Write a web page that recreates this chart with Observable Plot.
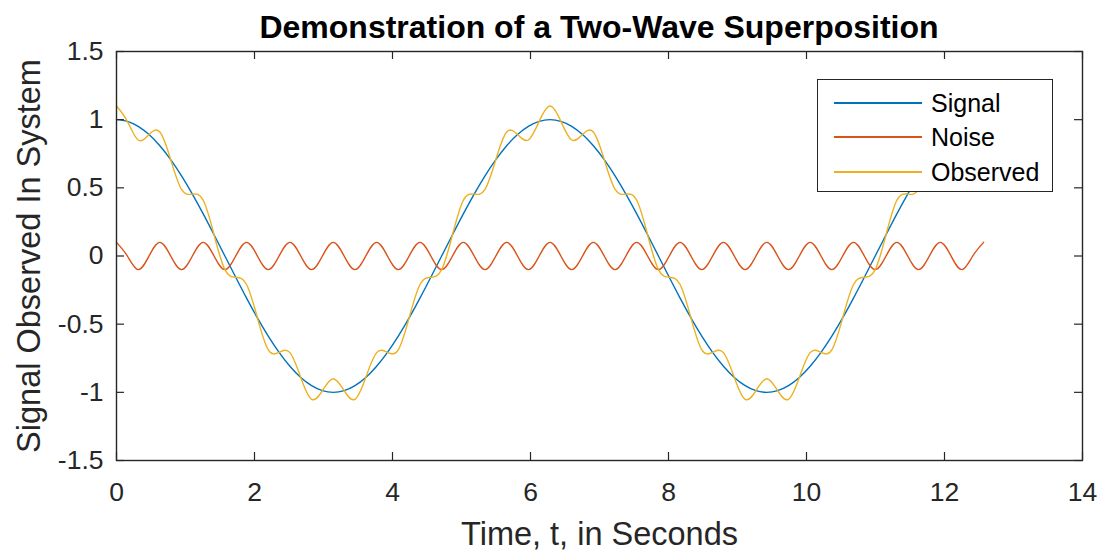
<!DOCTYPE html>
<html>
<head>
<meta charset="utf-8">
<script src="https://cdn.jsdelivr.net/npm/d3@7"></script>
<script src="https://cdn.jsdelivr.net/npm/@observablehq/plot@0.6"></script>
<style>
  body { margin: 0; background: #fff; font-family: "Liberation Sans", Arial, sans-serif; }
  #wrap { position: relative; width: 1101px; height: 552px; }
  #title { position: absolute; left: 116px; width: 966px; top: 11px; line-height: 32px; text-align: center; font-weight: bold; font-size: 32px; color: #000; white-space: nowrap; }
  #legend { position: absolute; left: 817px; top: 79px; width: 236px; height: 113px; background: #fff; border: 1.5px solid #262626; box-sizing: border-box; }
  .lrow { position: absolute; left: 16px; height: 30px; line-height: 30px; display: flex; align-items: center; font-size: 25px; color: #000; white-space: nowrap; }
  .lrow span.sw { display: inline-block; width: 88px; height: 2px; margin-right: 9px; }
</style>
</head>
<body>
<div id="wrap">
  <div id="chart"></div>
  <div id="title">Demonstration of a Two-Wave Superposition</div>
  <div id="legend"></div>
</div>
<script>
const timeStep = Math.PI / 20;
const signal = [1,0.988,0.951,0.891,0.809,0.707,0.588,0.454,0.309,0.156,0,-0.156,-0.309,-0.454,-0.588,-0.707,-0.809,-0.891,-0.951,-0.988,-1,-0.988,-0.951,-0.891,-0.809,-0.707,-0.588,-0.454,-0.309,-0.156,0,0.156,0.309,0.454,0.588,0.707,0.809,0.891,0.951,0.988,1,
  0.988,0.951,0.891,0.809,0.707,0.588,0.454,0.309,0.156,0,-0.156,-0.309,-0.454,-0.588,-0.707,-0.809,-0.891,-0.951,-0.988,-1,-0.988,-0.951,-0.891,-0.809,-0.707,-0.588,-0.454,-0.309,-0.156,0,0.156,0.309,0.454,0.588,0.707,0.809,0.891,0.951,0.988,1];
const noise = [0.1,0,-0.1,0,0.1,0,-0.1,0,0.1,0,-0.1,0,0.1,0,-0.1,0,0.1,0,-0.1,0,0.1,0,-0.1,0,0.1,0,-0.1,0,0.1,0,-0.1,0,0.1,0,-0.1,0,0.1,0,-0.1,0,0.1,
  0,-0.1,0,0.1,0,-0.1,0,0.1,0,-0.1,0,0.1,0,-0.1,0,0.1,0,-0.1,0,0.1,0,-0.1,0,0.1,0,-0.1,0,0.1,0,-0.1,0,0.1,0,-0.1,0,0.1,0,-0.1,0,0.1];
const observed = [1.1,0.988,0.851,0.891,0.909,0.707,0.488,0.454,0.409,0.156,-0.1,-0.156,-0.209,-0.454,-0.688,-0.707,-0.709,-0.891,-1.051,-0.988,-0.9,-0.988,-1.051,-0.891,-0.709,-0.707,-0.688,-0.454,-0.209,-0.156,-0.1,0.156,0.409,0.454,0.488,0.707,0.909,0.891,0.851,0.988,1.1,
  0.988,0.851,0.891,0.909,0.707,0.488,0.454,0.409,0.156,-0.1,-0.156,-0.209,-0.454,-0.688,-0.707,-0.709,-0.891,-1.051,-0.988,-0.9,-0.988,-1.051,-0.891,-0.709,-0.707,-0.688,-0.454,-0.209,-0.156,-0.1,0.156,0.409,0.454,0.488,0.707,0.909,0.891,0.851,0.988,1.1];
const seriesNames = ["Signal", "Noise", "Observed"];
const seriesColors = ["#0072BD", "#D95319", "#EDB120"];
const xTicks = [0, 2, 4, 6, 8, 10, 12, 14];
const yTicks = [-1.5, -1, -0.5, 0, 0.5, 1, 1.5];

const seriesValues = [signal, noise, observed];
const rows = [];
seriesValues.forEach((vals, s) => vals.forEach((v, k) => rows.push({t: k * timeStep, v, series: seriesNames[s]})));

const W = 1101, H = 552, mL = 116, mR = 19, mT = 51, mB = 92;
const frameW = W - mL - mR, frameH = H - mT - mB, tickLen = 8;
const axisColor = "#262626";
const chart = Plot.plot({
  width: W,
  height: H,
  marginLeft: mL,
  marginRight: mR,
  marginTop: mT,
  marginBottom: mB,
  style: {fontFamily: "Liberation Sans, Arial, sans-serif", color: axisColor, background: "#fff"},
  x: {domain: [0, 14]},
  y: {domain: [-1.5, 1.5]},
  color: {domain: seriesNames, range: seriesColors},
  marks: [
    Plot.line(rows, {x: "t", y: "v", z: "series", stroke: "series", strokeWidth: 1.4, curve: "natural"}),
    // inward tick marks on all four sides (MATLAB box style)
    Plot.tickX(xTicks, {x: d => d, insetTop: frameH - tickLen, stroke: axisColor, strokeWidth: 1.2}),
    Plot.tickX(xTicks, {x: d => d, insetBottom: frameH - tickLen, stroke: axisColor, strokeWidth: 1.2}),
    Plot.tickY(yTicks, {y: d => d, insetRight: frameW - tickLen, stroke: axisColor, strokeWidth: 1.2}),
    Plot.tickY(yTicks, {y: d => d, insetLeft: frameW - tickLen, stroke: axisColor, strokeWidth: 1.2}),
    Plot.frame({stroke: axisColor, strokeWidth: 1.4}),
    Plot.axisX({ticks: xTicks, tickSize: 0, tickPadding: 22, label: "Time, t, in Seconds", labelAnchor: "center", labelArrow: "none", labelOffset: 84, fontSize: 26.5, fill: axisColor}),
    Plot.axisY({ticks: yTicks, tickSize: 0, tickPadding: 13, label: "Signal Observed In System", labelAnchor: "center", labelArrow: "none", labelOffset: 100, fontSize: 26.5, fill: axisColor, tickFormat: d => String(d)})
  ]
});
// enlarge axis label text relative to tick labels
chart.querySelectorAll("g[aria-label='x-axis label'] text, g[aria-label='y-axis label'] text").forEach(t => t.setAttribute("font-size", "32.5"));
document.getElementById("chart").appendChild(chart);

const legend = document.getElementById("legend");
const rowCenters = [23, 57, 92];
seriesNames.forEach((name, i) => {
  const row = document.createElement("div");
  row.className = "lrow";
  row.style.top = (rowCenters[i] - 15) + "px";
  const sw = document.createElement("span");
  sw.className = "sw";
  sw.style.background = seriesColors[i];
  row.appendChild(sw);
  row.appendChild(document.createTextNode(name));
  legend.appendChild(row);
});
</script>
</body>
</html>
